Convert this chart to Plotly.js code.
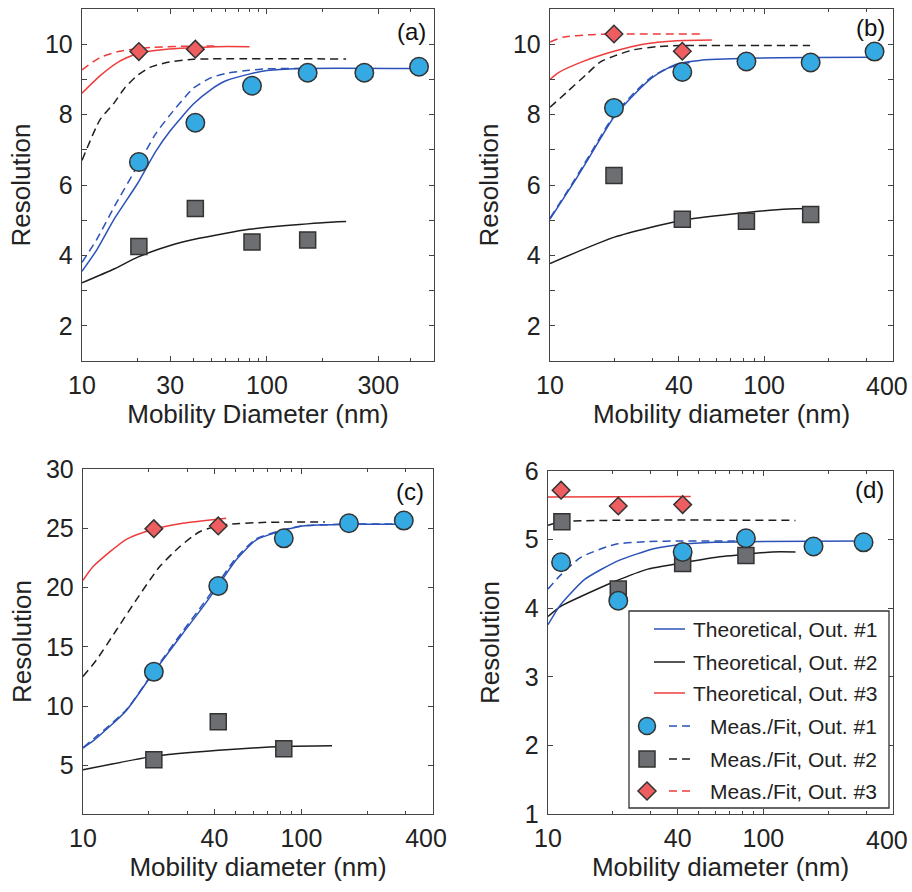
<!DOCTYPE html>
<html>
<head>
<meta charset="utf-8">
<script src="https://cdn.plot.ly/plotly-3.0.1.min.js"></script>
<style>html,body{margin:0;padding:0;background:#fff;}#chart{width:912px;height:892px;}</style>
</head>
<body>
<div id="chart"></div>
<script>
// ---------------- Panel (a) ----------------
const aMeas1D = [20.3, 41, 83, 166, 336, 664];
const aMeas1 = [6.65, 7.77, 8.82, 9.19, 9.19, 9.36];
const aMeas2D = [20.3, 41, 83, 166];
const aMeas2 = [4.25, 5.33, 4.38, 4.44];
const aMeas3D = [20.3, 41];
const aMeas3 = [9.79, 9.86];
const aTh1D = [10, 12, 15, 20, 25, 30, 40, 50, 60, 80, 100, 150, 664];
const aTh1 = [3.55, 4.15, 5.05, 6.05, 6.95, 7.54, 8.3, 8.72, 8.96, 9.15, 9.25, 9.31, 9.31];
const aFit1D = [10, 12, 15, 20, 25, 30, 40, 50, 60, 80, 100, 150];
const aFit1 = [3.8, 4.45, 5.4, 6.55, 7.45, 8.0, 8.75, 9.05, 9.17, 9.26, 9.3, 9.31];
const aTh2D = [10, 15, 20, 30, 40, 60, 80, 100, 150, 200, 268];
const aTh2 = [3.22, 3.62, 3.95, 4.28, 4.45, 4.63, 4.74, 4.8, 4.88, 4.93, 4.96];
const aFit2D = [10, 12.5, 14.8, 17.1, 19.8, 23.3, 28.7, 40, 268];
const aFit2 = [6.7, 7.85, 8.31, 8.77, 9.1, 9.34, 9.48, 9.57, 9.58];
const aTh3D = [10, 12.5, 16, 20.3, 28.7, 40, 53, 80.5];
const aTh3 = [8.61, 9.1, 9.52, 9.75, 9.86, 9.9, 9.93, 9.93];
const aFit3D = [10, 12.5, 16, 24, 43, 52];
const aFit3 = [9.27, 9.62, 9.8, 9.91, 9.95, 9.95];

// ---------------- Panel (b) ----------------
const bMeas1D = [19.9, 41.5, 82.7, 165, 328];
const bMeas1 = [8.19, 9.21, 9.51, 9.48, 9.79];
const bMeas2D = [19.9, 41.5, 82.7, 165];
const bMeas2 = [6.27, 5.03, 4.97, 5.16];
const bMeas3D = [19.9, 41.5];
const bMeas3 = [10.29, 9.8];
const bTh1D = [10, 13.1, 15.3, 19.9, 25, 30, 35, 40, 50, 60, 83, 165, 328];
const bTh1 = [5.03, 6.13, 6.8, 7.93, 8.6, 9.05, 9.3, 9.45, 9.54, 9.57, 9.6, 9.62, 9.63];
const bFit1D = [10, 13.1, 15.3, 19.9, 25, 30, 35, 40, 45];
const bFit1 = [5.06, 6.17, 6.85, 7.98, 8.65, 9.08, 9.3, 9.42, 9.48];
const bTh2D = [10, 20, 41.5, 83, 130, 176];
const bTh2 = [3.77, 4.52, 5.0, 5.22, 5.32, 5.33];
const bFit2D = [10, 12, 14.9, 17.2, 19.9, 24.5, 31.4, 40, 164];
const bFit2 = [8.21, 8.64, 9.16, 9.5, 9.66, 9.84, 9.93, 9.96, 9.96];
const bTh3D = [10, 11, 14.4, 19.9, 27.2, 39, 57];
const bTh3 = [9.0, 9.2, 9.52, 9.8, 10.0, 10.1, 10.12];
const bFit3D = [10, 11.5, 15.3, 19.9, 52];
const bFit3 = [10.06, 10.2, 10.27, 10.29, 10.29];

// ---------------- Panel (c) ----------------
const cMeas1D = [21.1, 41.6, 83, 165, 294];
const cMeas1 = [12.89, 20.13, 24.15, 25.42, 25.65];
const cMeas2D = [21.1, 41.6, 83];
const cMeas2 = [5.48, 8.69, 6.41];
const cMeas3D = [21.1, 41.6];
const cMeas3 = [24.97, 25.2];
const cTh1D = [10, 11.3, 15.8, 21.1, 28.6, 35.4, 41.4, 50.2, 62, 82, 101, 165, 294];
const cTh1 = [6.46, 7.16, 9.64, 12.88, 16.12, 18.37, 20.12, 22.32, 24.01, 24.8, 25.19, 25.34, 25.34];
const cFit1D = [10, 15.8, 21.1, 28.6, 35.4, 41.4, 50.2, 62, 82, 101, 165, 294];
const cFit1 = [6.5, 9.7, 12.95, 16.3, 18.6, 20.35, 22.5, 24.1, 24.85, 25.2, 25.35, 25.35];
const cTh2D = [10, 21.1, 41.6, 83, 138];
const cTh2 = [4.63, 5.76, 6.27, 6.6, 6.66];
const cFit2D = [10, 11.5, 14.2, 17.5, 22.4, 27.7, 34.2, 43.6, 68.9, 128];
const cFit2 = [12.5, 13.87, 16.4, 18.94, 21.75, 23.44, 24.71, 25.28, 25.5, 25.53];
const cTh3D = [10, 11.1, 15.8, 21.1, 28.6, 45.2];
const cTh3 = [20.6, 21.75, 24.07, 24.92, 25.42, 25.85];

// ---------------- Panel (d) ----------------
const dMeas1D = [11.5, 21.2, 42.2, 83, 171, 292];
const dMeas1 = [4.67, 4.11, 4.82, 5.02, 4.9, 4.96];
const dMeas2D = [11.6, 21.2, 42.2, 83];
const dMeas2 = [5.26, 4.28, 4.65, 4.77];
const dMeas3D = [11.5, 21.2, 42.2];
const dMeas3 = [5.72, 5.49, 5.51];
const dTh1D = [10, 11.25, 12.35, 14.8, 21.1, 31.3, 41.6, 59.4, 83, 292];
const dTh1 = [3.76, 4.02, 4.17, 4.42, 4.69, 4.87, 4.93, 4.96, 4.97, 4.98];
const dFit1D = [10, 11.5, 14.2, 20.4, 29.1, 41.6, 85];
const dFit1 = [4.28, 4.49, 4.74, 4.93, 4.97, 4.98, 4.98];
const dTh2D = [10, 11.5, 14.2, 20.4, 29.1, 41.6, 59.4, 85, 110, 141];
const dTh2 = [3.88, 4.03, 4.17, 4.39, 4.57, 4.66, 4.74, 4.79, 4.82, 4.82];
const dFit2D = [10, 11.5, 141];
const dFit2 = [5.21, 5.26, 5.28];
const dTh3D = [10, 46];
const dTh3 = [5.62, 5.63];

// ---------------- Ticks & labels ----------------
const xTickValsA = [10, 30, 100, 400];
const xTickTextA = ['10', '30', '100', '300'];
const xMinorA = [20, 40, 50, 60, 70, 80, 90, 200, 600];
const xTickVals = [10, 40, 100, 400];
const xTickTextC = ['10', '40', '100', '400\u00a0\u00a0'];
const xTickTextBD = ['10', '40', '100', ''];   // "400" at the right edge drawn as a label below
const edgeLabel = '400';
const xMinor = [20, 30, 50, 60, 70, 80, 90, 200, 300];
const yTicksAB = [2, 4, 6, 8, 10];
const yMinorAB = [3, 5, 7, 9];
const yTicksC = [5, 10, 15, 20, 25, 30];
const yTicksD = [1, 2, 3, 4, 5, 6];
const panelLabels = ['(a)', '(b)', '(c)', '(d)'];
const xTitles = ['Mobility Diameter (nm)', 'Mobility diameter (nm)', 'Mobility diameter (nm)', 'Mobility diameter (nm)'];
const yTitle = 'Resolution';
const legendLabels = ['Theoretical, Out. #1', 'Theoretical, Out. #2', 'Theoretical, Out. #3',
  'Meas./Fit, Out. #1', 'Meas./Fit, Out. #2', 'Meas./Fit, Out. #3'];

// ---------------- Styles ----------------
const W = 912, H = 892;
const FONT = 'Liberation Sans, Arial, Helvetica, sans-serif';
const C_BLUE = '#2b52b8', C_BLACK = '#1e1e1e', C_RED = '#ee3c3c';
const F_CIRC = '#35a9e1', F_SQ = '#6c6e71', F_DIA = '#ee5d60', EDGE = '#333333';
const DASH = '8px,5px';
const LW = 1.5;

const traces = [];
function line(xs, ys, color, dashed, ax) {
  traces.push({x: xs, y: ys, type: 'scatter', mode: 'lines', xaxis: 'x' + ax, yaxis: 'y' + ax,
    line: {color: color, width: LW, dash: dashed ? DASH : 'solid', shape: 'spline', smoothing: 0.6},
    showlegend: false, hoverinfo: 'skip'});
}
function pts(xs, ys, symbol, fill, size, ax) {
  traces.push({x: xs, y: ys, type: 'scatter', mode: 'markers', xaxis: 'x' + ax, yaxis: 'y' + ax,
    marker: {symbol: symbol, color: fill, size: size, line: {color: EDGE, width: 1.5}},
    showlegend: false, hoverinfo: 'skip'});
}
function panel(ax, d) {
  if (d.th2) line(d.th2[0], d.th2[1], C_BLACK, false, ax);
  if (d.fit2) line(d.fit2[0], d.fit2[1], C_BLACK, true, ax);
  if (d.fit3) line(d.fit3[0], d.fit3[1], C_RED, true, ax);
  if (d.th3) line(d.th3[0], d.th3[1], C_RED, false, ax);
  if (d.fit1) line(d.fit1[0], d.fit1[1], C_BLUE, true, ax);
  if (d.th1) line(d.th1[0], d.th1[1], C_BLUE, false, ax);
  pts(d.m2[0], d.m2[1], 'square', F_SQ, 16, ax);
  pts(d.m1[0], d.m1[1], 'circle', F_CIRC, 18.5, ax);
  pts(d.m3[0], d.m3[1], 'diamond', F_DIA, 13.5, ax);
}
panel('', {th1: [aTh1D, aTh1], fit1: [aFit1D, aFit1], th2: [aTh2D, aTh2], fit2: [aFit2D, aFit2],
  th3: [aTh3D, aTh3], fit3: [aFit3D, aFit3], m1: [aMeas1D, aMeas1], m2: [aMeas2D, aMeas2], m3: [aMeas3D, aMeas3]});
panel('2', {th1: [bTh1D, bTh1], fit1: [bFit1D, bFit1], th2: [bTh2D, bTh2], fit2: [bFit2D, bFit2],
  th3: [bTh3D, bTh3], fit3: [bFit3D, bFit3], m1: [bMeas1D, bMeas1], m2: [bMeas2D, bMeas2], m3: [bMeas3D, bMeas3]});
panel('3', {th1: [cTh1D, cTh1], fit1: [cFit1D, cFit1], th2: [cTh2D, cTh2], fit2: [cFit2D, cFit2],
  th3: [cTh3D, cTh3], m1: [cMeas1D, cMeas1], m2: [cMeas2D, cMeas2], m3: [cMeas3D, cMeas3]});
panel('4', {th1: [dTh1D, dTh1], fit1: [dFit1D, dFit1], th2: [dTh2D, dTh2], fit2: [dFit2D, dFit2],
  th3: [dTh3D, dTh3], m1: [dMeas1D, dMeas1], m2: [dMeas2D, dMeas2], m3: [dMeas3D, dMeas3]});

const px = v => v / W;
const py = v => 1 - v / H;

function xax(dom, range, tv, tt, minor, title, anchor) {
  return {domain: dom, anchor: anchor, type: 'log', range: range, tickmode: 'array', tickvals: tv, ticktext: tt,
    ticks: 'inside', ticklen: 5, tickwidth: 1, tickcolor: '#444', mirror: 'ticks', showline: true,
    linecolor: '#444', linewidth: 1.3, showgrid: false, zeroline: false, ticklabelstandoff: 2,
    ticklabeloverflow: 'allow',
    minor: {tickmode: 'array', tickvals: minor, ticks: 'inside', ticklen: 3, tickcolor: '#444', showgrid: false},
    tickfont: {family: FONT, size: 25, color: '#222'},
    title: {text: title, font: {family: FONT, size: 26, color: '#222'}, standoff: 5}};
}
function yax(dom, range, tv, minor, anchor, standoff) {
  const o = {domain: dom, anchor: anchor, range: range, tickmode: 'array', tickvals: tv,
    ticks: 'inside', ticklen: 5, tickwidth: 1, tickcolor: '#444', mirror: 'ticks', showline: true,
    linecolor: '#444', linewidth: 1.3, showgrid: false, zeroline: false, ticklabelstandoff: 3,
    ticklabeloverflow: 'allow',
    tickfont: {family: FONT, size: 25, color: '#222'},
    title: {text: yTitle, font: {family: FONT, size: 26, color: '#222'}, standoff: standoff}};
  if (minor) o.minor = {tickmode: 'array', tickvals: minor, ticks: 'inside', ticklen: 5, tickcolor: '#444', showgrid: false};
  return o;
}

const yDomTop = [py(361), py(9)];
const layout = {
  width: W, height: H, margin: {l: 0, r: 0, t: 0, b: 0}, paper_bgcolor: '#fff', plot_bgcolor: '#fff',
  showlegend: false, font: {family: FONT, color: '#222'},
  xaxis: xax([px(82), px(434)], [1, Math.log10(800)], xTickValsA, xTickTextA, xMinorA, xTitles[0], 'y'),
  yaxis: yax(yDomTop, [1, 11], yTicksAB, yMinorAB, 'x', 6),
  xaxis2: xax([px(550), px(893)], [1, Math.log10(400)], xTickVals, xTickTextBD, xMinor, xTitles[1], 'y2'),
  yaxis2: yax(yDomTop, [1, 11], yTicksAB, yMinorAB, 'x2', 6),
  xaxis3: xax([px(83), px(433)], [1, Math.log10(400)], xTickVals, xTickTextC, xMinor, xTitles[2], 'y3'),
  yaxis3: yax([py(814), py(469)], [0.9, 30], yTicksC, null, 'x3', 6),
  xaxis4: xax([px(548), px(893)], [1, Math.log10(400)], xTickVals, xTickTextBD, xMinor, xTitles[3], 'y4'),
  yaxis4: yax([py(814), py(471)], [1, 6], yTicksD, null, 'x4', 17),
  annotations: [], shapes: []
};

// right-edge "400" labels of panels (b) and (d), kept inside the figure
[[887, 386], [887, 840]].forEach(p => layout.annotations.push({text: edgeLabel, xref: 'paper', yref: 'paper',
  x: px(p[0]), y: py(p[1]), xanchor: 'center', yanchor: 'middle', showarrow: false,
  font: {family: FONT, size: 25, color: '#222'}}));

// panel labels
const labPos = [[428, 32], [887, 28], [426, 491], [886, 489]];
panelLabels.forEach((t, i) => layout.annotations.push({text: t, xref: 'paper', yref: 'paper',
  x: px(labPos[i][0]), y: py(labPos[i][1]), xanchor: 'right', yanchor: 'middle', showarrow: false,
  font: {family: FONT, size: 24, color: '#111'}}));

// legend (MATLAB-style, right-aligned text) in panel (d)
layout.shapes.push({type: 'rect', xref: 'paper', yref: 'paper', x0: px(629), x1: px(889), y0: py(808), y1: py(611),
  line: {color: '#333', width: 1.3}, fillcolor: '#fff', layer: 'above'});
const rows = [629, 662, 693, 726, 759, 791];
const lcol = [C_BLUE, C_BLACK, C_RED];
for (let i = 0; i < 3; i++) {
  layout.shapes.push({type: 'line', xref: 'paper', yref: 'paper', x0: px(654), x1: px(685), y0: py(rows[i]), y1: py(rows[i]),
    line: {color: lcol[i], width: LW}, layer: 'above'});
  layout.shapes.push({type: 'line', xref: 'paper', yref: 'paper', x0: px(669), x1: px(694), y0: py(rows[i + 3]), y1: py(rows[i + 3]),
    line: {color: lcol[i], width: LW, dash: DASH}, layer: 'above'});
}
const mx = 647;
layout.shapes.push({type: 'circle', xref: 'paper', yref: 'paper', x0: px(mx - 8.5), x1: px(mx + 8.5), y0: py(rows[3] + 8.5), y1: py(rows[3] - 8.5),
  fillcolor: F_CIRC, line: {color: EDGE, width: 1.5}, layer: 'above'});
layout.shapes.push({type: 'rect', xref: 'paper', yref: 'paper', x0: px(mx - 8), x1: px(mx + 8), y0: py(rows[4] + 8), y1: py(rows[4] - 8),
  fillcolor: F_SQ, line: {color: EDGE, width: 1.5}, layer: 'above'});
{
  const cy = rows[5], r = 9;
  const p = (x, y) => px(x) + ',' + py(y);
  layout.shapes.push({type: 'path', xref: 'paper', yref: 'paper',
    path: 'M' + p(mx, cy - r) + ' L' + p(mx + r, cy) + ' L' + p(mx, cy + r) + ' L' + p(mx - r, cy) + ' Z',
    fillcolor: F_DIA, line: {color: EDGE, width: 1.5}, layer: 'above'});
}
legendLabels.forEach((t, i) => layout.annotations.push({text: t, xref: 'paper', yref: 'paper',
  x: px(879), y: py(rows[i]), xanchor: 'right', yanchor: 'middle', showarrow: false,
  font: {family: FONT, size: 21, color: '#222'}}));

Plotly.newPlot('chart', traces, layout, {staticPlot: true, displayModeBar: false});
</script>
</body>
</html>
